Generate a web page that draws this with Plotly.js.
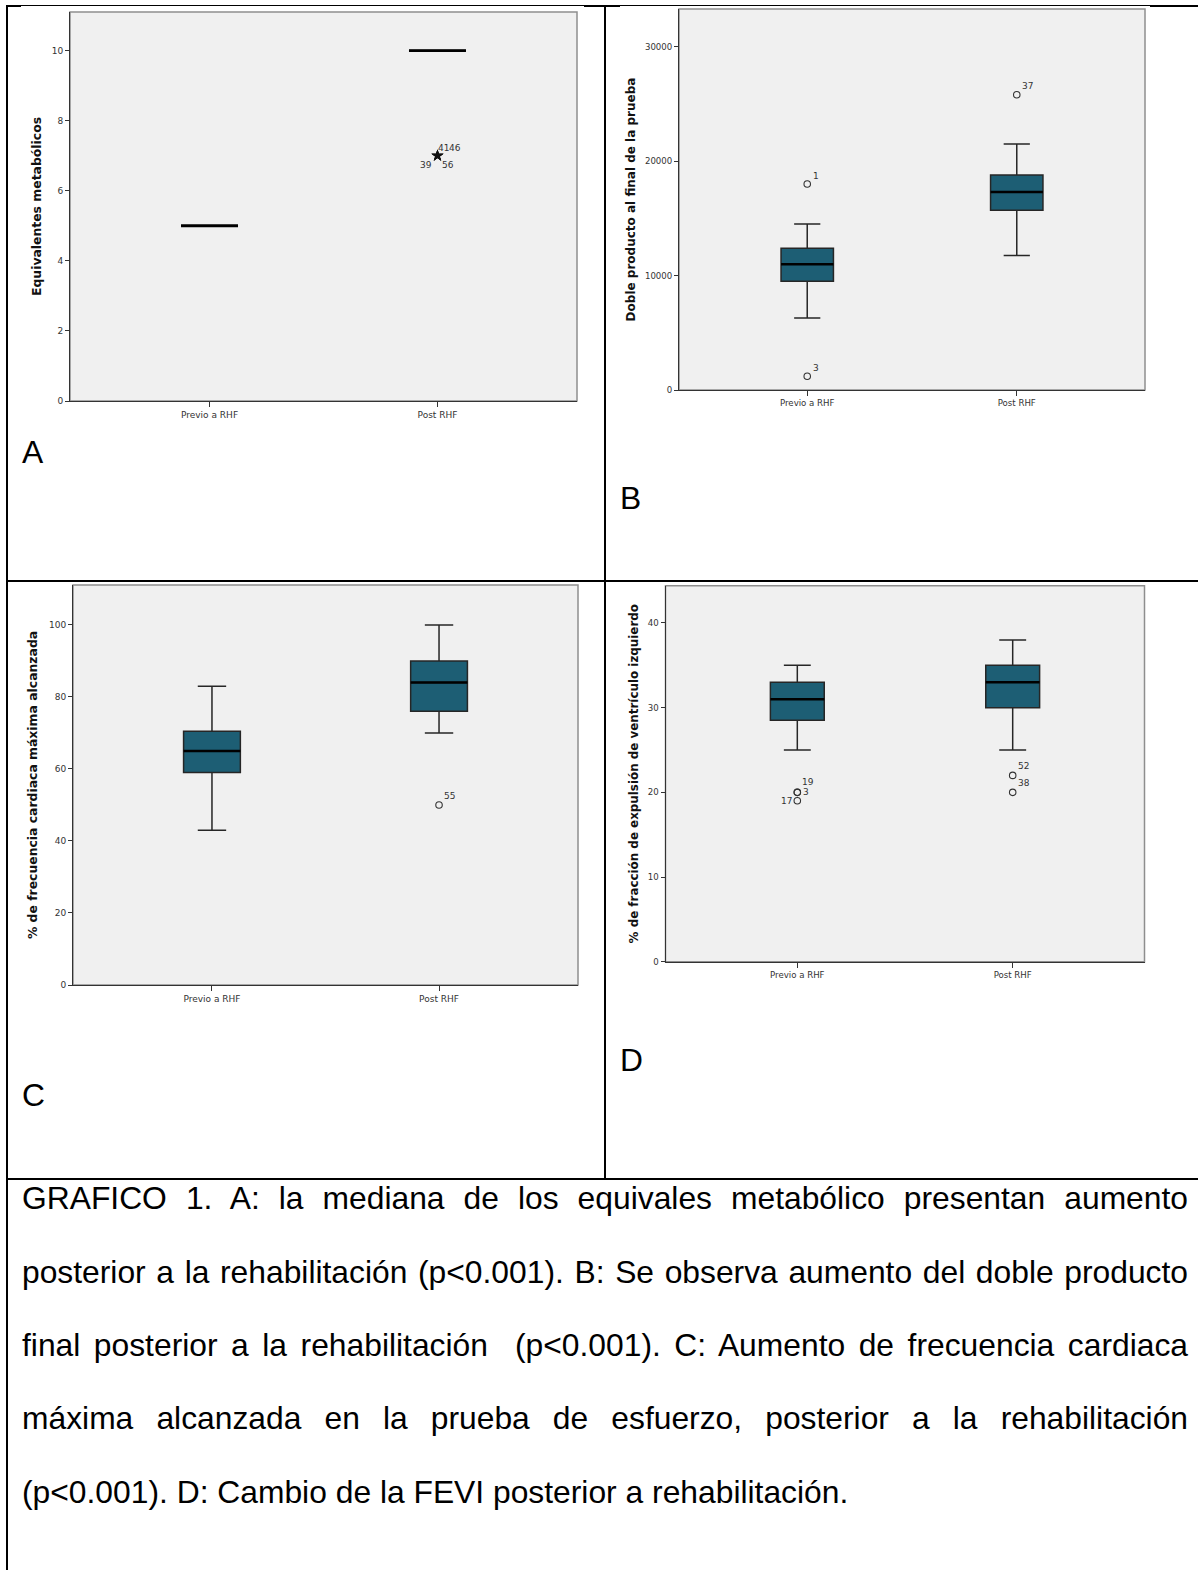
<!DOCTYPE html>
<html>
<head>
<meta charset="utf-8">
<script src="https://cdn.plot.ly/plotly-3.0.1.min.js"></script>
<style>
html,body{margin:0;padding:0;background:#fff;}
#page{position:relative;width:1198px;height:1570px;overflow:hidden;background:#fff;}
#chart{position:absolute;left:0;top:0;width:1198px;height:1570px;}
.ln{position:absolute;background:#000;}
.cap{position:absolute;left:22px;width:1166px;font-family:"Liberation Sans",Arial,sans-serif;font-size:31.8px;line-height:36px;color:#000;text-align:justify;text-align-last:justify;}
.cap.last{text-align:left;text-align-last:left;}
.lbl{position:absolute;font-family:"Liberation Sans",Arial,sans-serif;font-size:31.8px;line-height:36px;color:#000;}
</style>
</head>
<body>
<div id="page">
  <div id="chart"></div>
  <!-- table borders -->
  <div class="ln" style="left:6px;top:5px;width:1192px;height:1px;"></div>
  <div class="ln" style="left:6px;top:5px;width:15px;height:2px;"></div>
  <div class="ln" style="left:584px;top:5px;width:36px;height:2px;"></div>
  <div class="ln" style="left:1150px;top:5px;width:48px;height:2px;"></div>
  <div class="ln" style="left:6px;top:5px;width:2px;height:1565px;"></div>
  <div class="ln" style="left:604px;top:5px;width:2px;height:1175px;"></div>
  <div class="ln" style="left:6px;top:580px;width:1192px;height:2px;"></div>
  <div class="ln" style="left:6px;top:1178px;width:1192px;height:2px;"></div>
  <!-- panel letters -->
  <div class="lbl" style="left:22px;top:434px;">A</div>
  <div class="lbl" style="left:620px;top:480px;">B</div>
  <div class="lbl" style="left:22px;top:1077px;">C</div>
  <div class="lbl" style="left:620px;top:1042px;">D</div>
  <!-- caption -->
  <div class="cap" style="top:1180px;">GRAFICO 1. A: la mediana de los equivales metabólico presentan aumento</div>
  <div class="cap" style="top:1254px;">posterior a la rehabilitación (p&lt;0.001). B: Se observa aumento del doble producto</div>
  <div class="cap" style="top:1327px;">final posterior a la rehabilitación&nbsp; (p&lt;0.001). C: Aumento de frecuencia cardiaca</div>
  <div class="cap" style="top:1400px;">máxima alcanzada en la prueba de esfuerzo, posterior a la rehabilitación</div>
  <div class="cap last" style="top:1474px;">(p&lt;0.001). D: Cambio de la FEVI posterior a rehabilitación.</div>
</div>
<script>
// ---------- DATA ----------
const categories = ['Previo a RHF', 'Post RHF'];

// A: Equivalentes metabólicos
const metQ1 = [5, 10];
const metMedian = [5, 10];
const metQ3 = [5, 10];
const metLower = [5, 10];
const metUpper = [5, 10];
const metOutCat = ['Post RHF', 'Post RHF', 'Post RHF', 'Post RHF'];
const metOutVal = [7, 7, 7, 7];
const metOutId = ['41', '46', '39', '56'];

// B: Doble producto al final de la prueba
const dpQ1 = [9500, 15700];
const dpMedian = [11000, 17300];
const dpQ3 = [12400, 18800];
const dpLower = [6300, 11750];
const dpUpper = [14500, 21500];
const dpOutCat = ['Previo a RHF', 'Previo a RHF', 'Post RHF'];
const dpOutVal = [18000, 1200, 25800];
const dpOutId = ['1', '3', '37'];

// C: % de frecuencia cardiaca máxima alcanzada
const fcQ1 = [59, 76];
const fcMedian = [65, 84];
const fcQ3 = [70.5, 90];
const fcLower = [43, 70];
const fcUpper = [83, 100];
const fcOutCat = ['Post RHF'];
const fcOutVal = [50];
const fcOutId = ['55'];

// D: % de fracción de expulsión de ventrículo izquierdo
const fevQ1 = [28.5, 30];
const fevMedian = [31, 33];
const fevQ3 = [33, 35];
const fevLower = [25, 25];
const fevUpper = [35, 38];
const fevOutCat = ['Previo a RHF', 'Previo a RHF', 'Previo a RHF', 'Post RHF', 'Post RHF'];
const fevOutVal = [20, 20, 19, 22, 20];
const fevOutId = ['19', '3', '17', '52', '38'];

// ---------- STYLE / PLACEMENT ----------
const W = 1198, H = 1570;
const px = v => v / W;
const py = v => 1 - v / H;
const BOXW = 0.25;
const boxFill = '#1d5e74';
const tickFontFam = 'DejaVu Sans, sans-serif';

// label placement per outlier: [xanchor, xshift, yshift]
const placeA = [['left', -1, 8], ['left', 10, 8], ['right', -3, -9], ['left', 3, -9]];
const placeB = [['left', 4, 8], ['left', 4, 8], ['left', 3, 9]];
const placeC = [['left', 3, 9]];
const placeD = [['left', 3, 10], ['left', 4, 0], ['right', -3, 0], ['left', 3, 9], ['left', 3, 9]];

const panels = [
  {id: '', q1: metQ1, med: metMedian, q3: metQ3, lo: metLower, hi: metUpper,
   oc: metOutCat, ov: metOutVal, oid: metOutId, place: placeA, star: true,
   xd: [70, 577], yd: [12, 401], yr: [0, 11.1], dt: 2,
   title: 'Equivalentes metabólicos', tsize: 12.4, stand: 7, tf: 9},
  {id: '2', q1: dpQ1, med: dpMedian, q3: dpQ3, lo: dpLower, hi: dpUpper,
   oc: dpOutCat, ov: dpOutVal, oid: dpOutId, place: placeB, star: false,
   xd: [679, 1145], yd: [9, 390], yr: [0, 33300], dt: 10000,
   title: 'Doble producto al final de la prueba', tsize: 12, stand: 6, tf: 8.6},
  {id: '3', q1: fcQ1, med: fcMedian, q3: fcQ3, lo: fcLower, hi: fcUpper,
   oc: fcOutCat, ov: fcOutVal, oid: fcOutId, place: placeC, star: false,
   xd: [73, 578], yd: [585, 985], yr: [0, 111.1], dt: 20,
   title: '% de frecuencia cardiaca máxima alcanzada', tsize: 12.4, stand: 8, tf: 9},
  {id: '4', q1: fevQ1, med: fevMedian, q3: fevQ3, lo: fevLower, hi: fevUpper,
   oc: fevOutCat, ov: fevOutVal, oid: fevOutId, place: placeD, star: false,
   xd: [665.5, 1144.5], yd: [585.7, 961.7], yr: [0, 44.4], dt: 10,
   title: '% de fracción de expulsión de ventrículo izquierdo', tsize: 11.9, stand: 6, tf: 8.6}
];

const traces = [];
const shapes = [];
const annotations = [];
const layout = {
  width: W, height: H,
  margin: {l: 0, r: 0, t: 0, b: 0, pad: 0},
  paper_bgcolor: 'rgba(0,0,0,0)',
  plot_bgcolor: '#f0f0f0',
  showlegend: false,
  font: {family: tickFontFam, color: '#333'}
};

panels.forEach(p => {
  const xa = 'x' + p.id, ya = 'y' + p.id;
  layout['xaxis' + p.id] = {
    domain: [px(p.xd[0]), px(p.xd[1])],
    anchor: ya, type: 'category', categoryorder: 'array', categoryarray: categories,
    range: [-0.612, 1.612], ticks: 'outside', ticklen: 5, tickwidth: 1, tickcolor: '#333',
    showline: true, linecolor: '#333', linewidth: 1, showgrid: false, zeroline: false,
    tickfont: {family: tickFontFam, size: p.tf, color: '#333'}, fixedrange: true
  };
  layout['yaxis' + p.id] = {
    domain: [py(p.yd[1]), py(p.yd[0])],
    anchor: xa, range: p.yr, tickmode: 'linear', tick0: 0, dtick: p.dt, tickformat: 'd',
    ticks: 'outside', ticklen: 4, tickwidth: 1, tickcolor: '#333',
    showline: true, linecolor: '#333', linewidth: 1, showgrid: false, zeroline: false,
    tickfont: {family: tickFontFam, size: p.tf, color: '#333'}, fixedrange: true,
    title: {text: p.title, standoff: p.stand,
            font: {family: tickFontFam, size: p.tsize, color: '#111', weight: 'bold'}}
  };
  // frame
  shapes.push({type: 'rect', xref: xa + ' domain', yref: ya + ' domain', x0: 0, x1: 1, y0: 0, y1: 1,
               line: {color: '#8e8e8e', width: 1.5}, layer: 'below'});
  // box
  traces.push({
    type: 'box', xaxis: xa, yaxis: ya, x: categories,
    q1: p.q1, median: p.med, q3: p.q3, lowerfence: p.lo, upperfence: p.hi,
    width: BOXW, whiskerwidth: 0.5, boxpoints: false,
    fillcolor: boxFill, line: {color: '#262626', width: 1.5}, hoverinfo: 'skip'
  });
  // median lines
  p.med.forEach((m, i) => {
    shapes.push({type: 'line', xref: xa, yref: ya, x0: i - BOXW / 2, x1: i + BOXW / 2, y0: m, y1: m,
                 line: {color: '#000', width: (p.id === '' ? 2.8 : 2.5)}});
  });
  // outliers
  traces.push({
    type: 'scatter', mode: 'markers', xaxis: xa, yaxis: ya, x: p.oc, y: p.ov,
    marker: p.star ? {symbol: 'star', size: 9, color: '#111', line: {width: 0}}
                   : {symbol: 'circle-open', size: 6.5, color: '#333', line: {width: 1.1, color: '#333'}},
    hoverinfo: 'skip'
  });
  p.oid.forEach((t, i) => {
    const pl = p.place[i];
    annotations.push({xref: xa, yref: ya, x: p.oc[i], y: p.ov[i], text: t, showarrow: false,
      xanchor: pl[0], yanchor: 'middle', xshift: pl[1], yshift: pl[2],
      font: {family: tickFontFam, size: 9, color: '#333'}});
  });
});

layout.shapes = shapes;
layout.annotations = annotations;

Plotly.newPlot('chart', traces, layout, {displayModeBar: false, staticPlot: true});
</script>
</body>
</html>
